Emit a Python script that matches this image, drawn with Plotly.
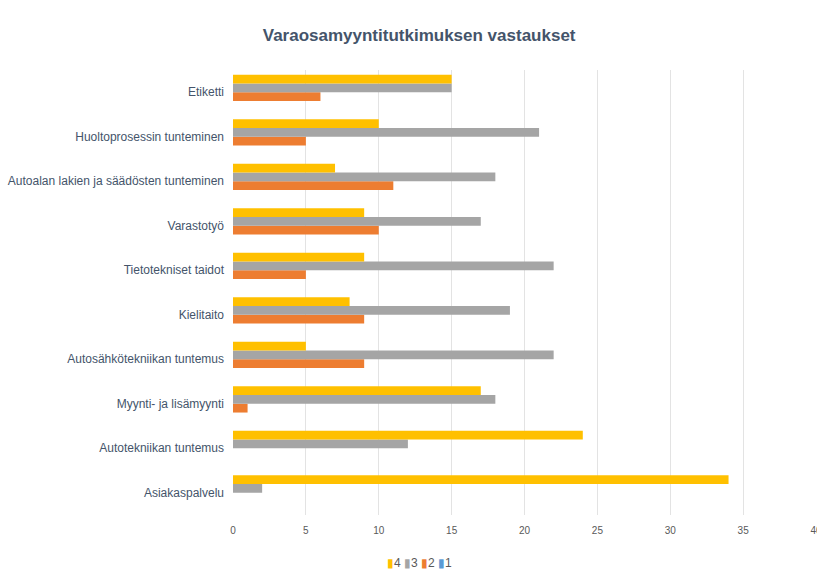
import plotly.graph_objects as go

categories = [
    "Asiakaspalvelu",
    "Autotekniikan tuntemus",
    "Myynti- ja lisämyynti",
    "Autosähkötekniikan tuntemus",
    "Kielitaito",
    "Tietotekniset taidot",
    "Varastotyö",
    "Autoalan lakien ja säädösten tunteminen",
    "Huoltoprosessin tunteminen",
    "Etiketti",
]
series_1 = [0, 0, 0, 0, 0, 0, 0, 0, 0, 0]
series_2 = [0, 0, 1, 9, 9, 5, 10, 11, 5, 6]
series_3 = [2, 12, 18, 22, 19, 22, 17, 18, 21, 15]
series_4 = [34, 24, 17, 5, 8, 9, 9, 7, 10, 15]
series_names = ["1", "2", "3", "4"]
colors = ["#5B9BD5", "#ED7D31", "#A5A5A5", "#FFC000"]
tick_vals = [0, 5, 10, 15, 20, 25, 30, 35, 40]

font_family = "Liberation Sans, Arial, sans-serif"

fig = go.Figure()
for name, vals, col in zip(series_names, [series_1, series_2, series_3, series_4], colors):
    fig.add_trace(go.Bar(
        y=categories, x=vals, name=name, orientation="h",
        marker=dict(color=col, line=dict(width=0)),
        showlegend=False,
    ))

# compact legend (4, 3, 2, 1) as text with coloured markers
legend_text = " ".join(
    f'<span style="color:{c}">▮</span>{n}'
    for n, c in zip(reversed(series_names), reversed(colors))
)

fig.update_layout(
    width=817, height=569,
    barmode="group", bargap=0.21, bargroupgap=0,
    plot_bgcolor="white", paper_bgcolor="white",
    margin=dict(l=233, r=1, t=70, b=54, autoexpand=False),
    font=dict(family=font_family, color="#595959"),
    title=dict(
        text="<b>Varaosamyyntitutkimuksen vastaukset</b>",
        x=0.513, xanchor="center", y=0.938, yanchor="middle",
        font=dict(size=17, color="#44546A", family=font_family),
    ),
    xaxis=dict(
        range=[0, 40], tickvals=tick_vals, showgrid=True, gridcolor="#E3E3E3",
        gridwidth=1, zeroline=False, showline=False, ticks="",
        tickfont=dict(size=10, color="#595959"), ticklabelstandoff=8,
        ticklabeloverflow="allow", automargin=False,
    ),
    yaxis=dict(
        categoryorder="array", categoryarray=categories, showgrid=False,
        showline=False, ticks="", tickfont=dict(size=12, color="#44546A"),
        ticklabelstandoff=8, automargin=False,
    ),
    annotations=[dict(
        text=legend_text, xref="paper", yref="paper",
        x=0.32, xanchor="center", y=-0.108, yanchor="middle",
        showarrow=False, font=dict(size=12, color="#595959", family=font_family),
    )],
)

fig.write_html(
    "out.html",
    config={"displayModeBar": False},
    post_script="document.body.style.margin='0';document.body.style.padding='0';",
)
